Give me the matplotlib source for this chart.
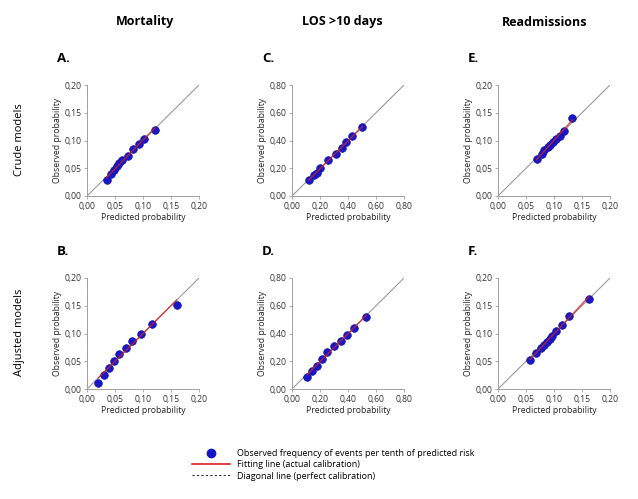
import numpy as np
import matplotlib.pyplot as plt
from matplotlib.lines import Line2D
from matplotlib.ticker import FuncFormatter

plt.rcParams['font.family'] = ['Open Sans', 'DejaVu Sans']

# predicted / observed probability per tenth of predicted risk
mort_crude_pred = [0.035, 0.043, 0.048, 0.053, 0.058, 0.063, 0.073, 0.083, 0.092, 0.101, 0.121]
mort_crude_obs = [0.029, 0.040, 0.047, 0.054, 0.060, 0.065, 0.072, 0.085, 0.094, 0.102, 0.119]
los_crude_pred = [0.119, 0.157, 0.179, 0.200, 0.255, 0.312, 0.355, 0.388, 0.429, 0.502]
los_crude_obs = [0.115, 0.150, 0.167, 0.200, 0.258, 0.305, 0.348, 0.387, 0.432, 0.494]
read_crude_pred = [0.069, 0.078, 0.083, 0.089, 0.093, 0.098, 0.104, 0.110, 0.118, 0.133]
read_crude_obs = [0.067, 0.075, 0.083, 0.088, 0.092, 0.098, 0.103, 0.109, 0.118, 0.141]

mort_adj_pred = [0.020, 0.030, 0.039, 0.0485, 0.058, 0.069, 0.081, 0.096, 0.116, 0.160]
mort_adj_obs = [0.011, 0.025, 0.038, 0.050, 0.063, 0.074, 0.086, 0.100, 0.117, 0.152]
los_adj_pred = [0.107, 0.145, 0.176, 0.212, 0.252, 0.300, 0.348, 0.393, 0.445, 0.531]
los_adj_obs = [0.089, 0.132, 0.168, 0.216, 0.269, 0.310, 0.349, 0.389, 0.438, 0.522]
read_adj_pred = [0.057, 0.068, 0.076, 0.082, 0.0875, 0.092, 0.096, 0.104, 0.114, 0.127, 0.162]
read_adj_obs = [0.052, 0.064, 0.074, 0.080, 0.085, 0.090, 0.096, 0.105, 0.116, 0.131, 0.163]

col_titles = ['Mortality', 'LOS >10 days', 'Readmissions']
row_titles = ['Crude models', 'Adjusted models']
letters = [['A.', 'C.', 'E.'], ['B.', 'D.', 'F.']]
ranges = [0.20, 0.80, 0.20]
ticks = [[0, 0.05, 0.10, 0.15, 0.20], [0, 0.2, 0.4, 0.6, 0.8], [0, 0.05, 0.10, 0.15, 0.20]]
data = [[(mort_crude_pred, mort_crude_obs), (los_crude_pred, los_crude_obs), (read_crude_pred, read_crude_obs)],
        [(mort_adj_pred, mort_adj_obs), (los_adj_pred, los_adj_obs), (read_adj_pred, read_adj_obs)]]

W, H = 638, 499
fig = plt.figure(figsize=(W / 100, H / 100), dpi=100)

lefts = [87, 292, 498]
tops = [85, 278]
aw, ah = 112, 111
fmt = FuncFormatter(lambda v, p: ('%.2f' % v).replace('.', ','))
grey = '#a0a0a0'

for r in range(2):
    for c in range(3):
        ax = fig.add_axes([lefts[c] / W, 1 - (tops[r] + ah) / H, aw / W, ah / H])
        lim = ranges[c]
        pred, obs = data[r][c]
        ax.plot([0, lim], [0, lim], color='#9a9a9a', lw=0.8, zorder=1)
        ax.plot(pred, obs, 'o', color='#1818c8', ms=5.5, mec='#1010a0', mew=0.5, zorder=2)
        k, b = np.polyfit(pred, obs, 1)
        xx = np.array([pred[0], pred[-1]])
        ax.plot(xx, k * xx + b, color='#d42020', lw=1.0, alpha=0.8, zorder=3)
        ax.set_xlim(0, lim)
        ax.set_ylim(0, lim)
        ax.set_xticks(ticks[c])
        ax.set_yticks(ticks[c])
        ax.xaxis.set_major_formatter(fmt)
        ax.yaxis.set_major_formatter(fmt)
        ax.tick_params(labelsize=6.2, length=2.5, width=0.6, color=grey, pad=1.5, labelcolor='#333333')
        for s in ['top', 'right']:
            ax.spines[s].set_visible(False)
        for s in ['left', 'bottom']:
            ax.spines[s].set_color(grey)
            ax.spines[s].set_linewidth(0.7)
        ax.set_xlabel('Predicted probability', fontsize=6.2, labelpad=2, color='#222222')
        ax.set_ylabel('Observed probability', fontsize=6.2, labelpad=2, color='#222222')
        ax.text(-0.27, 1.18, letters[r][c], transform=ax.transAxes, fontsize=9.5,
                fontweight='bold', ha='left', va='bottom')

col_x = [145, 342, 545]
for c in range(3):
    fig.text(col_x[c] / W, 1 - 22 / H, col_titles[c], fontsize=9, fontweight='bold',
             ha='center', va='center')
row_y = [140, 332]
for r in range(2):
    fig.text(20 / W, 1 - row_y[r] / H, row_titles[r], fontsize=8, rotation=90,
             ha='center', va='center')

handles = [Line2D([], [], marker='o', ls='none', color='#1515c8', ms=6),
           Line2D([], [], color='#d42020', lw=1.2),
           Line2D([], [], color='#333333', lw=0.8, ls=(0, (2, 2)))]
labels = ['Observed frequency of events per tenth of predicted risk',
          'Fitting line (actual calibration)',
          'Diagonal line (perfect calibration)']
fig.legend(handles, labels, loc='upper left', bbox_to_anchor=(192 / W, 1 - 449 / H),
           frameon=False, fontsize=6.5, handlelength=4.2, handletextpad=0.8,
           labelspacing=0.25, borderpad=0, borderaxespad=0)

fig.savefig('out.png', dpi=100)
